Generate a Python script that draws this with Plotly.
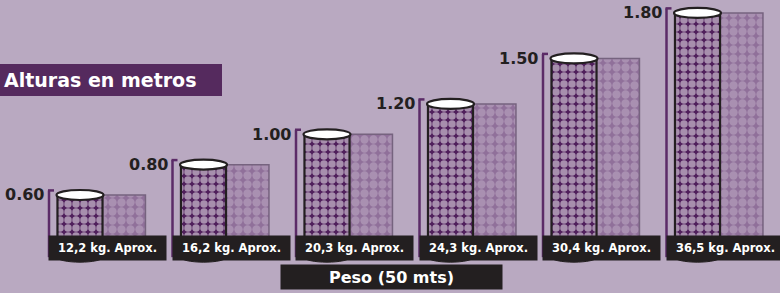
import plotly.graph_objects as go

# ---- data ----
heights = [0.60, 0.80, 1.00, 1.20, 1.50, 1.80]
height_labels = ["0.60", "0.80", "1.00", "1.20", "1.50", "1.80"]
weight_labels = ["12,2 kg. Aprox.", "16,2 kg. Aprox.", "20,3 kg. Aprox.",
                 "24,3 kg. Aprox.", "30,4 kg. Aprox.", "36,5 kg. Aprox."]
y_title = "Alturas en metros"
x_title = "Peso (50 mts)"

# ---- style ----
BG = "#b9a9c1"
DARK = "#231f20"
PURPLE = "#552a5e"
CYL_BG = "#4f1f5b"
BASE = 0.19
FONT = "DejaVu Sans"

W, H = 780, 293
xs = list(range(len(heights)))

fig = go.Figure()

# shadow bars
fig.add_trace(go.Bar(
    x=xs, y=[h - BASE for h in heights], base=BASE,
    width=0.35, offset=0.18,
    marker=dict(color="#90709a",
                line=dict(color="#76637f", width=1.5),
                pattern=dict(shape=".", fgcolor="#c2b0c8", bgcolor="#90709a",
                             size=9, solidity=0.66, fillmode="overlay")),
    hoverinfo="skip", showlegend=False))

# cylinder bodies
fig.add_trace(go.Bar(
    x=xs, y=[h - BASE for h in heights], base=BASE,
    width=0.365, offset=-0.1825,
    marker=dict(color=CYL_BG,
                line=dict(color=DARK, width=2.2),
                pattern=dict(shape=".", fgcolor="white", bgcolor=CYL_BG,
                             size=8, solidity=0.68, fillmode="overlay")),
    hoverinfo="skip", showlegend=False))

shapes = []
annotations = []
for i, (h, hl, wl) in enumerate(zip(heights, height_labels, weight_labels)):
    # bottom ellipse (under label box)
    shapes.append(dict(type="circle", xref="x", yref="y",
                       xsizemode="pixel", ysizemode="pixel",
                       xanchor=i, yanchor=BASE, x0=-23, x1=23, y0=-5, y1=5,
                       fillcolor=DARK, line=dict(color=DARK, width=1), layer="above"))
    # top ellipse
    shapes.append(dict(type="circle", xref="x", yref="y",
                       xsizemode="pixel", ysizemode="pixel",
                       xanchor=i, yanchor=h, x0=-23.5, x1=23.5, y0=-5, y1=5,
                       fillcolor="white", line=dict(color=DARK, width=2.2), layer="above"))
    # bracket
    top = h + 0.03
    shapes.append(dict(type="line", xref="x", yref="y", xsizemode="pixel",
                       xanchor=i, x0=-31, x1=-31, y0=BASE, y1=top,
                       line=dict(color="#5b2b67", width=2.5), layer="above"))
    shapes.append(dict(type="line", xref="x", yref="y", xsizemode="pixel",
                       xanchor=i, x0=-32, x1=-26, y0=top, y1=top,
                       line=dict(color="#5b2b67", width=2.5), layer="above"))
    # value label
    annotations.append(dict(x=i, y=h, xref="x", yref="y", xanchor="right", yanchor="middle",
                            xshift=-34, text="<b>%s</b>" % hl, showarrow=False,
                            font=dict(family=FONT, size=16, color=DARK)))
    # weight label box
    annotations.append(dict(x=i, y=1 - 248 / H, xref="x", yref="paper",
                            xanchor="center", yanchor="middle", xshift=27.5,
                            text="<b>%s</b>" % wl, showarrow=False,
                            width=117, height=24, bgcolor=DARK, borderpad=0,
                            font=dict(family=FONT, size=11.5, color="white")))

# y title box
shapes.append(dict(type="rect", xref="paper", yref="paper",
                   x0=-0.05, x1=222 / W, y0=1 - 96 / H, y1=1 - 64 / H,
                   fillcolor=PURPLE, line=dict(width=0), layer="above"))
annotations.append(dict(x=198 / W, y=1 - 80 / H, xref="paper", yref="paper",
                        xanchor="right", yanchor="middle", text="<b>%s</b>" % y_title,
                        showarrow=False, font=dict(family=FONT, size=19, color="white")))
# x title box
annotations.append(dict(x=391.5 / W, y=1 - 277 / H, xref="paper", yref="paper",
                        xanchor="center", yanchor="middle", text="<b>%s</b>" % x_title,
                        showarrow=False, width=221, height=24, bgcolor=DARK, borderpad=0,
                        font=dict(family=FONT, size=16, color="white")))

px_per_unit = 151.7
zero_px = 286
fig.update_layout(
    width=W, height=H,
    margin=dict(l=0, r=0, t=0, b=0),
    paper_bgcolor=BG, plot_bgcolor=BG,
    barmode="overlay",
    xaxis=dict(range=[-80 / 123.5, (W - 80) / 123.5], visible=False, fixedrange=True),
    yaxis=dict(range=[-(H - zero_px) / px_per_unit, zero_px / px_per_unit],
               visible=False, fixedrange=True),
    shapes=shapes, annotations=annotations,
)

fig.write_html("out.html", config={"displayModeBar": False},
               post_script="document.body.style.margin='0';document.body.style.padding='0';"
                           "document.body.style.overflow='hidden';")
